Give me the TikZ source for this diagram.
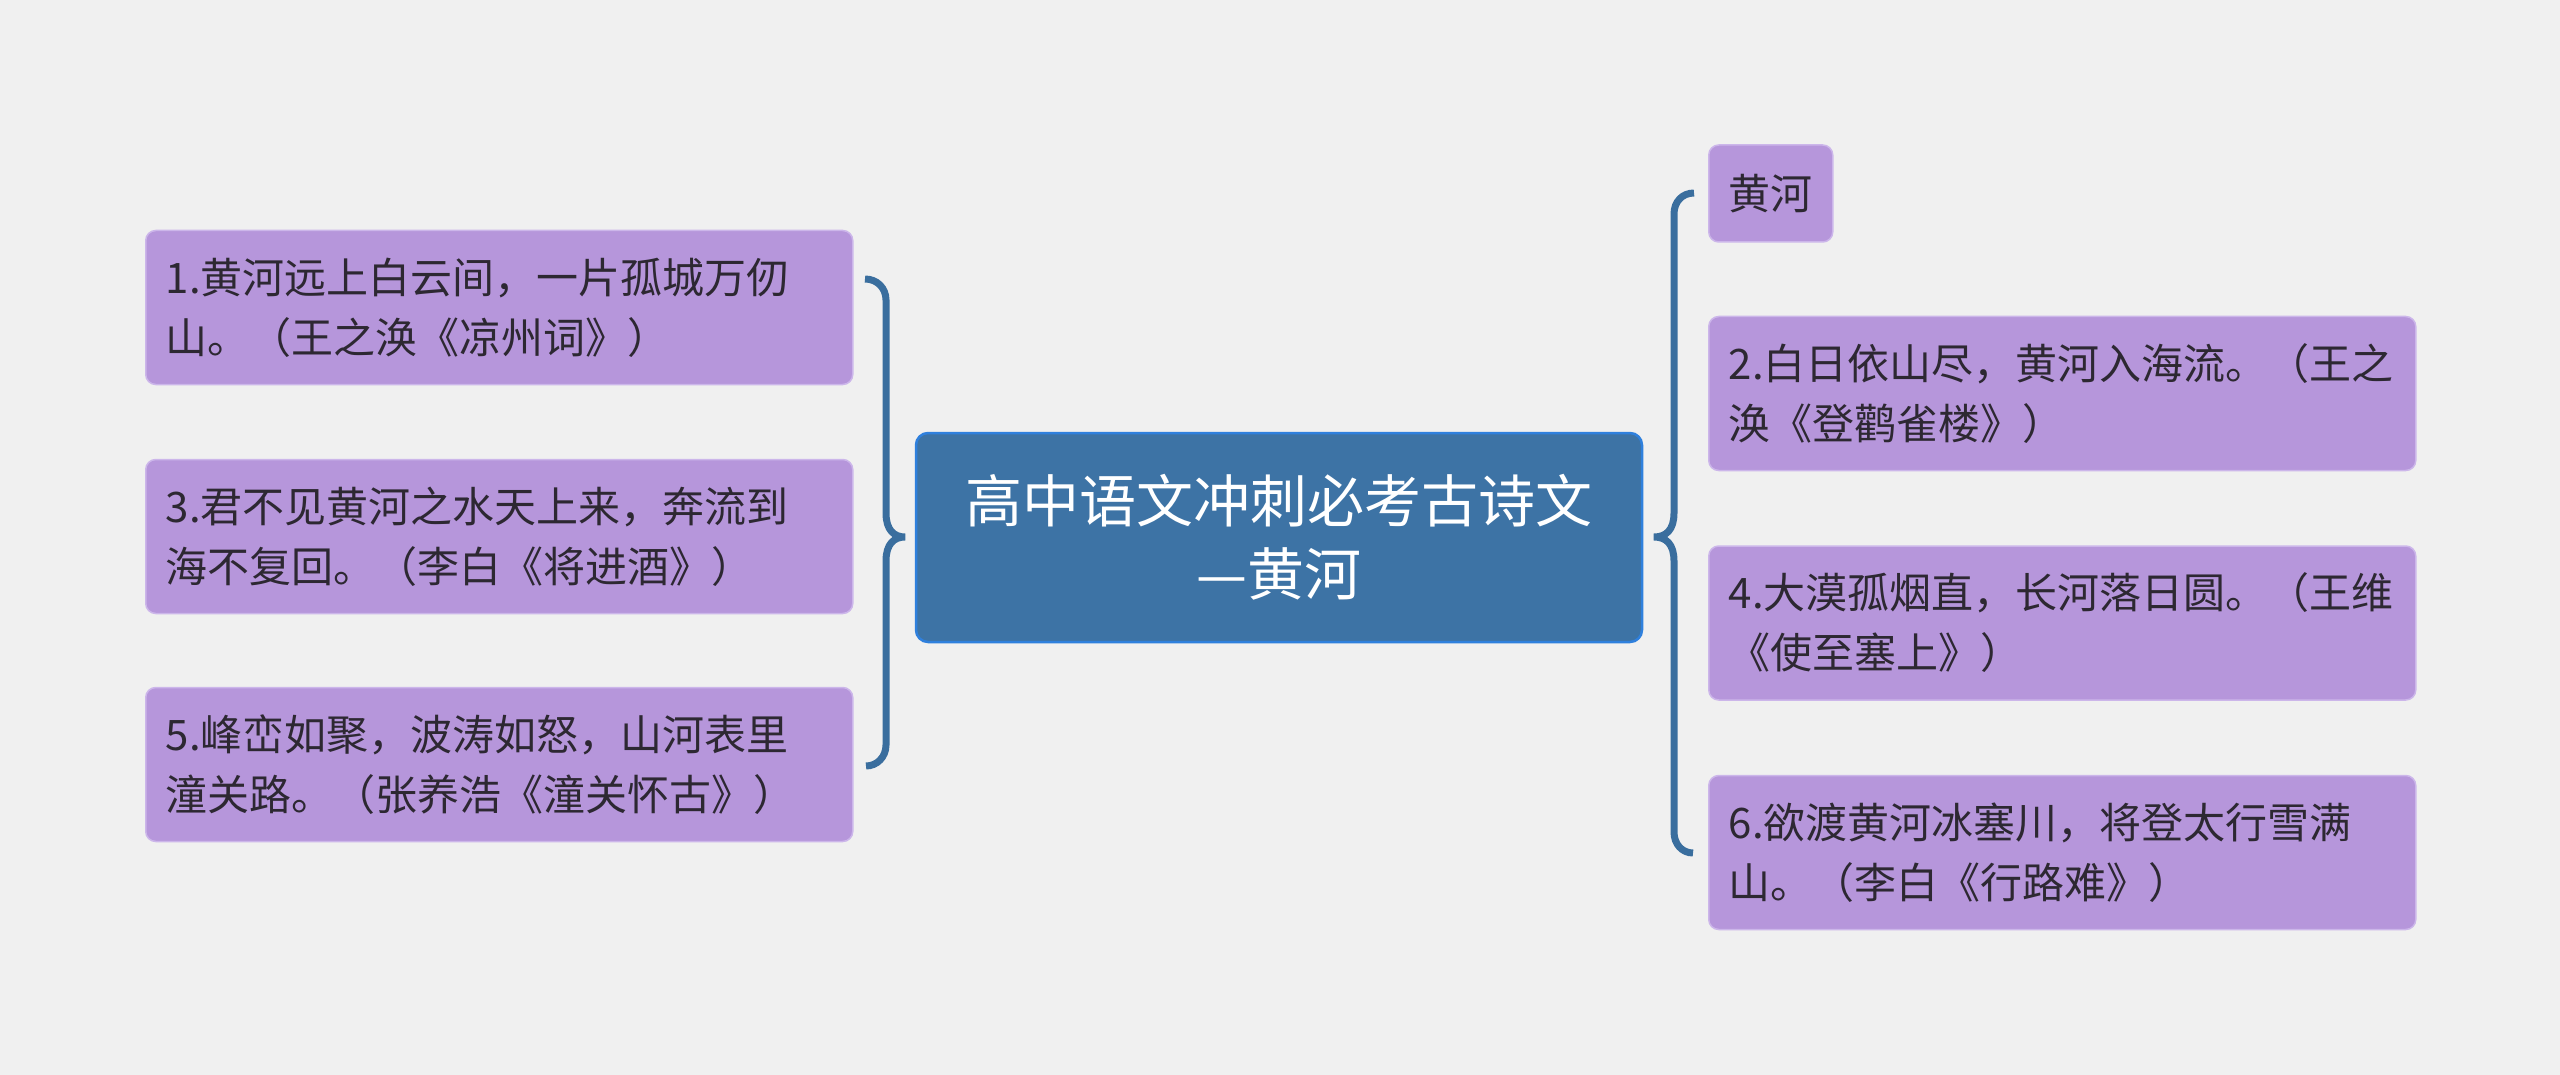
\documentclass[tikz,border=0pt]{standalone}
\usepackage{fontspec}
\setmainfont{Noto Sans CJK SC}
\usepackage{tikz}
\usetikzlibrary{positioning}
\definecolor{bgcolor}{RGB}{240, 240, 240}
\definecolor{rootcolor}{RGB}{61, 115, 165}
\definecolor{rootborder}{RGB}{47, 128, 221}
\definecolor{leafcolor}{RGB}{182, 150, 219}
\definecolor{leafborder}{RGB}{204, 182, 234}
\definecolor{bracecolor}{RGB}{58, 110, 158}
\definecolor{textcolor}{RGB}{45, 40, 50}

\begin{document}
\begin{tikzpicture}[x=1pt, y=-1pt,
    leaf/.style={draw=leafborder, line width=1.5pt, fill=leafcolor, rounded corners=10pt, anchor=west, inner xsep=20pt, inner ysep=0pt, text=textcolor, font=\fontsize{42}{60}\selectfont, align=left},
    poem/.style={leaf, text width=667pt, minimum height=154pt},
    root/.style={draw=rootborder, line width=2.5pt, fill=rootcolor, rounded corners=12pt, text=white, font=\fontsize{57}{73}\selectfont, align=center, minimum width=726pt, minimum height=209pt},
    brace/.style={draw=bracecolor, line width=7pt}]
    % Canvas
    \fill[bgcolor] (0,0) rectangle (2560,1075);
    \useasboundingbox (0,0) rectangle (2560,1075);

    % Central topic
    \node[root] (root) at (1279, 537.5) {高中语文冲刺必考古诗文\\—黄河};

    % Left branch
    \node[poem] (n1) at (145, 307.5) {1.黄河远上白云间，一片孤城万仞\\山。（王之涣《凉州词》）};
    \node[poem] (n3) at (145, 536.5) {3.君不见黄河之水天上来，奔流到\\海不复回。（李白《将进酒》）};
    \node[poem] (n5) at (145, 764.5) {5.峰峦如聚，波涛如怒，山河表里\\潼关路。（张养浩《潼关怀古》）};

    % Right branch
    \node[leaf, minimum height=97pt] (hh) at (1708, 193.5) {黄河};
    \node[poem] (n2) at (1708, 393.5) {2.白日依山尽，黄河入海流。（王之\\涣《登鹳雀楼》）};
    \node[poem] (n4) at (1708, 623) {4.大漠孤烟直，长河落日圆。（王维\\《使至塞上》）};
    \node[poem] (n6) at (1708, 852.5) {6.欲渡黄河冰塞川，将登太行雪满\\山。（李白《行路难》）};

    % Brace ends
    \coordinate (lt) at (865, 279);
    \coordinate (lp) at (905, 537);
    \coordinate (lb) at (866, 766);
    \coordinate (rt) at (1694, 193);
    \coordinate (rp) at (1654, 537);
    \coordinate (rb) at (1693, 853);

    % Braces
    \draw[brace] (lt) .. controls (877, 279) and (886, 288) .. (886, 300)
        -- (886, 513)
        .. controls (886, 530) and (894, 537) .. (lp)
        .. controls (894, 537) and (886, 544) .. (886, 561)
        -- (886, 745)
        .. controls (886, 757) and (877, 766) .. (lb);
    \draw[brace] (rt) .. controls (1682, 193) and (1674, 202) .. (1674, 214)
        -- (1674, 513)
        .. controls (1674, 530) and (1666, 537) .. (rp)
        .. controls (1666, 537) and (1674, 544) .. (1674, 561)
        -- (1674, 832)
        .. controls (1674, 844) and (1682, 853) .. (rb);
\end{tikzpicture}
\end{document}
